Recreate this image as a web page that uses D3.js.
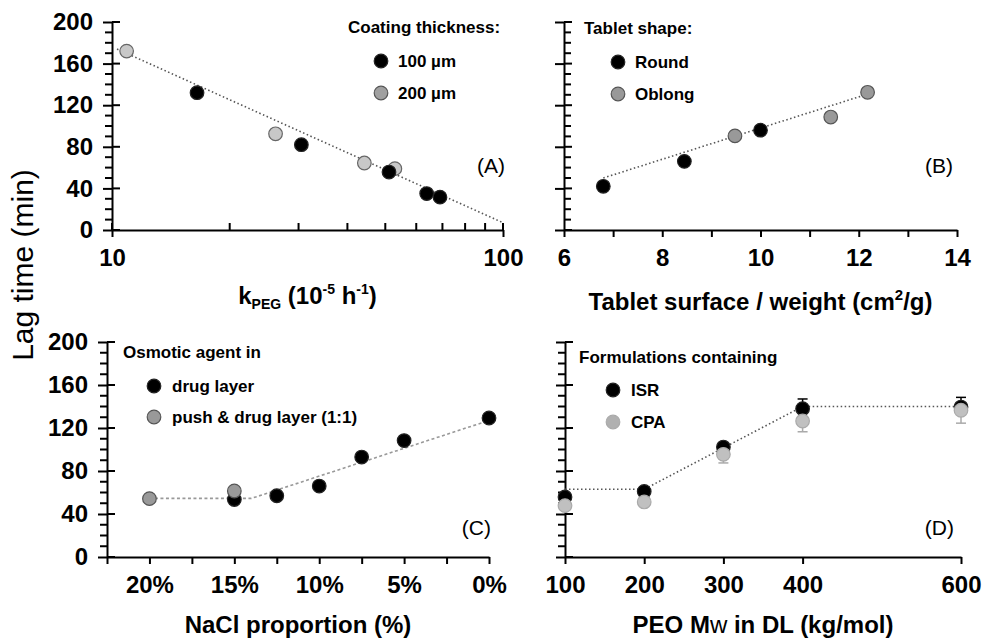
<!DOCTYPE html>
<html>
<head>
<meta charset="utf-8">
<script src="https://cdn.jsdelivr.net/npm/d3@7"></script>
<style>
  body { margin: 0; background: #fff; }
  text { font-family: "Liberation Sans", Arial, sans-serif; fill: #000; }
  .tick text { font-size: 24px; font-weight: bold; }
  .leg { font-size: 17px; font-weight: bold; }
  .ttl { font-size: 24px; font-weight: bold; }
  .plab { font-size: 21px; }
</style>
</head>
<body>
<script>
// (A) coating thickness
const kpeg100 = [16.5, 30.5, 51.1, 63.8, 69.0];
const lag100  = [132, 82, 55.7, 35, 31.6];
const kpeg200 = [10.9, 26.2, 44.2, 52.9];
const lag200  = [172, 92.5, 64.4, 59];
const fitA_x = [10.3, 100];
const fitA_y = [174, 7];

// (B) tablet shape
const roundX  = [6.8, 8.45, 10.0];
const roundY  = [42, 66, 96];
const oblongX = [9.48, 11.43, 12.18];
const oblongY = [90.5, 108.6, 132.4];
const fitB_x = [6.8, 12.2];
const fitB_y = [50, 131];

// (C) NaCl proportion
const drugPct  = [15, 12.5, 10, 7.5, 5, 0];
const drugLag  = [53.5, 57, 66, 93, 108.3, 129.3];
const drugErr  = [0, 0, 0, 0, 0, 4];
const pushPct  = [20, 15];
const pushLag  = [54.3, 61.4];
const fitC_x = [20, 14, 0];
const fitC_y = [54.5, 54.5, 127];
const pctTicks  = [22.5, 20, 17.5, 15, 12.5, 10, 7.5, 5, 2.5, 0];
const pctLabels = [20, 15, 10, 5, 0];

// (D) PEO Mw
const mw     = [100, 200, 300, 400, 600];
const isr    = [55.8, 61, 102.3, 138, 139.5];
const isrErr = [3, 2, 3, 9, 9];
const cpa    = [47.8, 51.2, 95.5, 126.5, 136.5];
const cpaErr = [2, 2, 8, 10, 12];
const fitD_x = [100, 200, 400, 600];
const fitD_y = [63, 63, 140, 140];

const yMajor = [0, 40, 80, 120, 160, 200];
const yMinor = d3.range(0, 201, 10).filter(d => d % 40 != 0);

const svg = d3.select('body').append('svg')
    .attr('width', 983).attr('height', 639);

const xA = d3.scaleLog().domain([10, 100]).range([112, 503]);
const xB = d3.scaleLinear().domain([6, 14]).range([564, 957]);
const yTop = d3.scaleLinear().domain([0, 200]).range([230, 22]);
const xC = d3.scaleLinear().domain([22.5, 0]).range([107, 489]);
const xD = d3.scaleLinear().domain([100, 600]).range([565, 961]);
const yBot = d3.scaleLinear().domain([0, 200]).range([557, 342]);

function tickLines(g, vals, f) {
    g.selectAll(null).data(vals).join('line')
        .attr('stroke', '#000').attr('stroke-width', 2)
        .each(function(d) {
            const c = f(d);
            d3.select(this).attr('x1', c[0]).attr('y1', c[1]).attr('x2', c[2]).attr('y2', c[3]);
        });
}

function yAxis(y, x0, labels, minorRight) {
    const g = svg.append('g').attr('transform', `translate(${x0},0)`);
    g.call(d3.axisLeft(y).tickValues(yMajor).tickSize(9).tickSizeOuter(0)
        .tickPadding(10).tickFormat(labels ? d3.format('d') : ''));
    g.select('.domain').attr('stroke-width', 2);
    g.selectAll('.tick line').attr('stroke-width', 2);
    // majors cross the axis
    tickLines(g, yMajor, d => [0, y(d), 8, y(d)]);
    tickLines(g, yMinor, d => minorRight ? [0, y(d), 7, y(d)] : [-7, y(d), 0, y(d)]);
    return g;
}

function xAxis(x, y0, ticks, labelVals, fmt) {
    const g = svg.append('g').attr('transform', `translate(0,${y0})`);
    g.call(d3.axisBottom(x).tickValues(ticks).tickSize(7).tickSizeOuter(0)
        .tickPadding(12).tickFormat(d => labelVals.includes(d) ? fmt(d) : ''));
    g.select('.domain').attr('stroke-width', 2);
    g.selectAll('.tick line').attr('stroke-width', 2);
    return g;
}

function dots(xs, ys, x, y, fill, stroke) {
    svg.append('g').selectAll('circle')
        .data(xs.map((d, i) => [d, ys[i]]))
        .join('circle')
        .attr('cx', d => x(d[0])).attr('cy', d => y(d[1]))
        .attr('r', 6.8)
        .attr('fill', fill).attr('stroke', stroke).attr('stroke-width', 1.2);
}

function fit(xs, ys, x, y, color, dash) {
    svg.append('path')
        .datum(xs.map((d, i) => [d, ys[i]]))
        .attr('fill', 'none').attr('stroke', color).attr('stroke-width', 1.6)
        .attr('stroke-dasharray', dash)
        .attr('d', d3.line().x(d => x(d[0])).y(d => y(d[1])));
}

function errBars(xs, ys, es, x, y, dir, color) {
    const g = svg.append('g').attr('stroke', color).attr('stroke-width', 1.5);
    xs.forEach((v, i) => {
        if (!es[i]) return;
        const tip = y(ys[i] + dir * es[i]);
        g.append('line').attr('x1', x(v)).attr('x2', x(v)).attr('y1', y(ys[i])).attr('y2', tip);
        g.append('line').attr('x1', x(v) - 5).attr('x2', x(v) + 5).attr('y1', tip).attr('y2', tip);
    });
}

function legend(x, y, title, items) {
    svg.append('text').attr('class', 'leg').attr('x', x).attr('y', y).text(title);
    items.forEach(it => {
        svg.append('circle').attr('cx', it.cx).attr('cy', it.cy).attr('r', 6.8)
            .attr('fill', it.fill).attr('stroke', it.stroke).attr('stroke-width', 1.2);
        svg.append('text').attr('class', 'leg').attr('x', it.tx).attr('y', it.cy + 6).text(it.label);
    });
}

function panelLabel(x, y, t) {
    svg.append('text').attr('class', 'plab').attr('x', x).attr('y', y)
        .attr('text-anchor', 'end').text(t);
}

// ---------- (A)
yAxis(yTop, 112, true, false);
const gxA = xAxis(xA, 230, [10, 100], [10, 100], d => d);
tickLines(gxA, [10, 100], d => [xA(d), 0, xA(d), -7]);
tickLines(gxA, d3.range(20, 100, 10), d => [xA(d), 0, xA(d), -7]);
fit(fitA_x, fitA_y, xA, yTop, '#555', '1.5,2.5');
dots(kpeg200, lag200, xA, yTop, '#c8c8c8', '#666');
dots(kpeg100, lag100, xA, yTop, '#000', '#222');
legend(348, 33, 'Coating thickness:', [
    {cx: 381, cy: 61, tx: 398, label: '100 \u00b5m', fill: '#000', stroke: '#222'},
    {cx: 381, cy: 93, tx: 398, label: '200 \u00b5m', fill: '#a0a0a0', stroke: '#555'}
]);
panelLabel(505, 173, '(A)');
const tA = svg.append('text').attr('class', 'ttl')
    .attr('x', (xA.range()[0] + xA.range()[1]) / 2).attr('y', 304).attr('text-anchor', 'middle');
tA.append('tspan').text('k');
tA.append('tspan').attr('font-size', 14).attr('dy', 5).text('PEG');
tA.append('tspan').attr('dy', -5).text(' (10');
tA.append('tspan').attr('font-size', 14).attr('dy', -10).text('-5');
tA.append('tspan').attr('dy', 10).text(' h');
tA.append('tspan').attr('font-size', 14).attr('dy', -10).text('-1');
tA.append('tspan').attr('dy', 10).text(')');

// ---------- (B)
yAxis(yTop, 564, false, true);
xAxis(xB, 230, d3.range(6, 15, 1), [6, 8, 10, 12, 14], d => d);
fit(fitB_x, fitB_y, xB, yTop, '#555', '1.5,2.5');
dots(roundX, roundY, xB, yTop, '#000', '#222');
dots(oblongX, oblongY, xB, yTop, '#999', '#555');
legend(584, 34, 'Tablet shape:', [
    {cx: 618, cy: 62, tx: 635, label: 'Round', fill: '#000', stroke: '#222'},
    {cx: 618, cy: 94, tx: 635, label: 'Oblong', fill: '#999', stroke: '#555'}
]);
panelLabel(953, 173, '(B)');
const tB = svg.append('text').attr('class', 'ttl')
    .attr('x', (xB.range()[0] + xB.range()[1]) / 2).attr('y', 310).attr('text-anchor', 'middle');
tB.append('tspan').text('Tablet surface / weight (cm');
tB.append('tspan').attr('font-size', 15).attr('dy', -10).text('2');
tB.append('tspan').attr('dy', 10).text('/g)');

// ---------- (C)
yAxis(yBot, 107, true, false);
xAxis(xC, 557, pctTicks, pctLabels, d => d + '%');
fit(fitC_x, fitC_y, xC, yBot, '#999', '3,2.5');
errBars(drugPct, drugLag, drugErr, xC, yBot, 1, '#000');
errBars(drugPct, drugLag, drugErr, xC, yBot, -1, '#000');
dots(drugPct, drugLag, xC, yBot, '#000', '#222');
dots(pushPct, pushLag, xC, yBot, '#999', '#555');
legend(123, 358, 'Osmotic agent in', [
    {cx: 154, cy: 386, tx: 172, label: 'drug layer', fill: '#000', stroke: '#222'},
    {cx: 154, cy: 417, tx: 172, label: 'push & drug layer (1:1)', fill: '#999', stroke: '#555'}
]);
panelLabel(491, 535, '(C)');
svg.append('text').attr('class', 'ttl')
    .attr('x', (xC.range()[0] + xC.range()[1]) / 2).attr('y', 633).attr('text-anchor', 'middle')
    .text('NaCl proportion (%)');

// ---------- (D)
yAxis(yBot, 565, false, false);
xAxis(xD, 557, mw, mw, d => d);
fit(fitD_x, fitD_y, xD, yBot, '#555', '1.5,2.5');
errBars(mw, isr, isrErr, xD, yBot, 1, '#000');
errBars(mw, cpa, cpaErr, xD, yBot, -1, '#aaa');
dots(mw, isr, xD, yBot, '#000', '#222');
dots(mw, cpa, xD, yBot, '#c0c0c0', '#aaa');
legend(579, 363, 'Formulations containing', [
    {cx: 613, cy: 390, tx: 631, label: 'ISR', fill: '#000', stroke: '#222'},
    {cx: 613, cy: 422, tx: 631, label: 'CPA', fill: '#b0b0b0', stroke: '#aaa'}
]);
panelLabel(954, 535, '(D)');
const tD = svg.append('text').attr('class', 'ttl')
    .attr('x', (xD.range()[0] + xD.range()[1]) / 2).attr('y', 633).attr('text-anchor', 'middle');
tD.append('tspan').text('PEO M');
tD.append('tspan').attr('font-weight', 'normal').text('w');
tD.append('tspan').text(' in DL (kg/mol)');

// shared y title
svg.append('text')
    .attr('transform', 'translate(33,265) rotate(-90)')
    .attr('text-anchor', 'middle')
    .attr('font-size', 30)
    .text('Lag time (min)');
</script>
</body>
</html>
